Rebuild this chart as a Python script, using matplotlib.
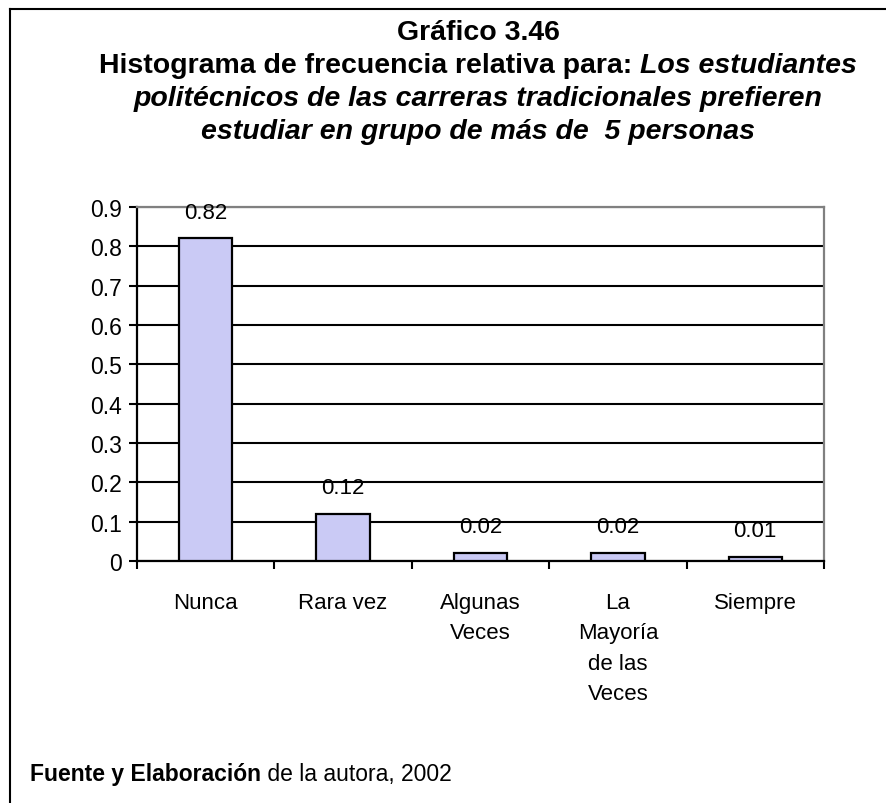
import matplotlib
matplotlib.use("Agg")
import matplotlib.pyplot as plt
from matplotlib.lines import Line2D

plt.rcParams['font.family'] = ['Liberation Sans', 'DejaVu Sans']

categories = ["Nunca", "Rara vez", "Algunas\nVeces", "La\nMayoría\nde las\nVeces", "Siempre"]
values = [0.82, 0.12, 0.02, 0.02, 0.01]
yticks = [0, 0.1, 0.2, 0.3, 0.4, 0.5, 0.6, 0.7, 0.8, 0.9]
ytick_labels = ["0", "0.1", "0.2", "0.3", "0.4", "0.5", "0.6", "0.7", "0.8", "0.9"]

W, H = 886, 804
fig = plt.figure(figsize=(W / 100, H / 100), dpi=100)
fig.patch.set_facecolor("white")

# outer frame (top and left edges)
fig.add_artist(Line2D([10 / W, 1.0], [1 - 10 / H, 1 - 10 / H], color="black", lw=1.5,
                      transform=fig.transFigure))
fig.add_artist(Line2D([10 / W, 10 / W], [0.0, 1 - 10 / H], color="black", lw=1.5,
                      transform=fig.transFigure))

ax = fig.add_axes([137 / W, (H - 562) / H, (824 - 137) / W, (562 - 208) / H])
x = list(range(len(categories)))
ax.bar(x, values, width=0.39, color="#cacaf5", edgecolor="black", linewidth=1.6, zorder=3)

ax.set_xlim(-0.5, len(categories) - 0.5)
ax.set_ylim(0, 0.9)
ax.set_yticks(yticks)
ax.set_yticklabels(ytick_labels)
ax.yaxis.grid(True, color="black", linewidth=1.5, zorder=0)
ax.set_axisbelow(True)

ax.set_xticks(x)
ax.set_xticklabels(categories, linespacing=1.6, va="top")
ax.set_xticks([i - 0.5 for i in range(len(categories) + 1)], minor=True)
ax.tick_params(axis="x", which="major", length=0, pad=22, labelsize=16)
ax.tick_params(axis="x", which="minor", length=6, width=1.5, direction="out")
ax.tick_params(axis="y", length=6, width=1.5, direction="out", labelsize=16.5, pad=5)

for side in ("left", "bottom"):
    ax.spines[side].set_color("black")
    ax.spines[side].set_linewidth(1.6)
for side in ("top", "right"):
    ax.spines[side].set_color("#808080")
    ax.spines[side].set_linewidth(1.6)

for xi, v in zip(x, values):
    ax.annotate(f"{v:.2f}", (xi, v), xytext=(0, 19), textcoords="offset points",
                ha="center", va="center", fontsize=16)

# title, built from bold and bold-italic pieces
renderer = fig.canvas.get_renderer()
cx = 478
fs = 20.5

def centered_line(parts, y):
    texts = [fig.text(0, y, s, fontsize=fs, fontweight="bold", fontstyle=st,
                      ha="left", va="center") for s, st in parts]
    widths = [t.get_window_extent(renderer).width for t in texts]
    total = sum(widths)
    left = cx - total / 2
    for t, w in zip(texts, widths):
        t.set_x(left / W)
        left += w

centered_line([("Gráfico 3.46", "normal")], 1 - 33 / H)
centered_line([("Histograma de frecuencia relativa para: ", "normal"),
               ("Los estudiantes", "italic")], 1 - 66 / H)
centered_line([("politécnicos de las carreras tradicionales prefieren", "italic")], 1 - 99 / H)
centered_line([("estudiar en grupo de más de  5 personas", "italic")], 1 - 132 / H)

# source note
t1 = fig.text(30 / W, 1 - 775 / H, "Fuente y Elaboración", fontsize=16.5,
              fontweight="bold", ha="left", va="center")
t1w = t1.get_window_extent(renderer).width
fig.text((30 + t1w) / W, 1 - 775 / H, " de la autora, 2002", fontsize=16.5,
         ha="left", va="center")

fig.savefig("out.png", dpi=100, facecolor="white")
